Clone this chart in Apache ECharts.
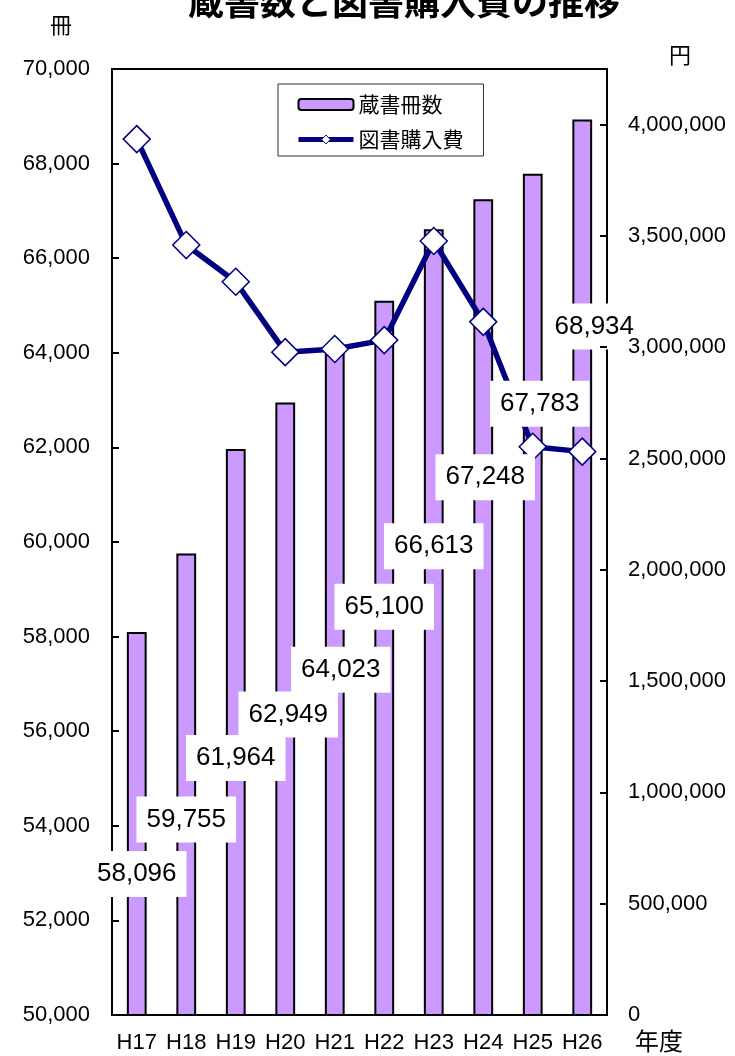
<!DOCTYPE html>
<html>
<head>
<meta charset="utf-8">
<script src="https://cdn.jsdelivr.net/npm/echarts@6/dist/echarts.min.js"></script>
<style>
  html, body { margin: 0; padding: 0; background: #fff; }
  #main { width: 735px; height: 1056px; }
</style>
</head>
<body>
<div id="main"></div>
<script>
// 年度
var years = ['H17', 'H18', 'H19', 'H20', 'H21', 'H22', 'H23', 'H24', 'H25', 'H26'];
// 蔵書冊数 (冊)
var bookCounts = [58096, 59755, 61964, 62949, 64023, 65100, 66613, 67248, 67783, 68934];
// 図書購入費 (円)
var purchaseCost = [3935000, 3459000, 3294000, 2978000, 2992000, 3032000, 3477000, 3114000, 2553000, 2531000];
// where each value label sits relative to its bar top (px)
var labelShift = [[0, 242], [0, 266], [0, 309], [3, 312], [6, 318], [0, 306], [0, 317], [2, 278], [7, 230], [12, 207]];

var latin = '"Liberation Sans", Arial, "Noto Sans CJK JP", sans-serif';
var cjk = '"Noto Sans CJK JP", sans-serif';

function comma(v) {
  return String(v).replace(/\B(?=(\d{3})+(?!\d))/g, ',');
}

var chart = echarts.init(document.getElementById('main'), null, { renderer: 'canvas' });

var option = {
  animation: false,
  backgroundColor: '#fff',
  title: {
    text: '蔵書数と図書購入費の推移',
    left: 404,
    textAlign: 'center',
    top: -17,
    padding: 0,
    textStyle: { fontFamily: cjk, fontSize: 36, fontWeight: 'bold', color: '#000' }
  },
  legend: {
    data: [
      { name: '蔵書冊数' },
      { name: '図書購入費', lineStyle: { width: 5, color: '#000080' }, itemStyle: { color: '#fff', borderColor: '#000080', borderWidth: 1 } }
    ],
    orient: 'vertical',
    left: 278,
    top: 84,
    padding: [10, 20, 6, 18],
    itemGap: 14,
    itemWidth: 55,
    itemHeight: 11,
    backgroundColor: '#fff',
    borderColor: '#333',
    borderWidth: 1,
    textStyle: { fontFamily: cjk, fontSize: 21, color: '#000' }
  },
  grid: {
    left: 112,
    right: 128,
    top: 69,
    bottom: 41,
    show: true,
    borderColor: '#000',
    borderWidth: 2,
    backgroundColor: 'transparent'
  },
  xAxis: {
    type: 'category',
    data: years,
    axisLine: { lineStyle: { color: '#000', width: 2 } },
    axisTick: { inside: true, length: 7, lineStyle: { color: '#000', width: 2 } },
    axisLabel: { interval: 0, fontFamily: latin, fontSize: 22, color: '#000', margin: 17 }
  },
  yAxis: [
    {
      type: 'value',
      min: 50000,
      max: 70000,
      interval: 2000,
      splitLine: { show: false },
      axisLine: { show: true, lineStyle: { color: '#000', width: 2 } },
      axisTick: { show: true, inside: true, length: 7, lineStyle: { color: '#000', width: 2 } },
      axisLabel: { fontFamily: latin, fontSize: 22, color: '#000', margin: 22, formatter: comma }
    },
    {
      type: 'value',
      position: 'right',
      min: 0,
      max: 4250000,
      interval: 500000,
      z: 11,
      splitLine: { show: false },
      axisLine: { show: false },
      axisTick: { show: true, inside: true, length: 7, lineStyle: { color: '#000', width: 2 } },
      axisLabel: {
        fontFamily: latin, fontSize: 22, color: '#000', margin: 21,
        showMaxLabel: false,
        formatter: function (v) { return v % 500000 === 0 ? comma(v) : ''; }
      }
    }
  ],
  graphic: [
    { type: 'text', left: 50, top: 14, style: { text: '冊', font: '22px "Noto Sans CJK JP"', fill: '#000' } },
    { type: 'text', left: 669, top: 44, style: { text: '円', font: '22px "Noto Sans CJK JP"', fill: '#000' } },
    { type: 'text', left: 635, top: 1029, style: { text: '年度', font: '24px "Noto Sans CJK JP"', fill: '#000' } }
  ],
  series: [
    {
      name: '蔵書冊数',
      type: 'bar',
      yAxisIndex: 0,
      data: bookCounts,
      barWidth: '40%',
      z: 2,
      itemStyle: { color: '#cc99ff', borderColor: '#000', borderWidth: 2 }
    },
    {
      name: '図書購入費',
      type: 'line',
      yAxisIndex: 1,
      data: purchaseCost,
      z: 3,
      symbol: 'diamond',
      symbolSize: 27,
      lineStyle: { color: '#000080', width: 5.5 },
      itemStyle: { color: '#fff', borderColor: '#000080', borderWidth: 1.5 }
    },
    {
      name: 'labels',
      type: 'scatter',
      yAxisIndex: 0,
      z: 10,
      symbolSize: 1,
      silent: true,
      itemStyle: { color: 'rgba(0,0,0,0)', opacity: 1 },
      data: bookCounts.map(function (v, i) {
        return {
          value: v,
          label: { offset: labelShift[i] }
        };
      }),
      label: {
        show: true,
        position: 'inside',
        formatter: function (p) { return comma(p.value); },
        fontFamily: latin,
        fontSize: 26,
        color: '#000',
        opacity: 1,
        backgroundColor: '#fff',
        padding: [10, 10]
      }
    }
  ]
};

chart.setOption(option);
</script>
</body>
</html>
